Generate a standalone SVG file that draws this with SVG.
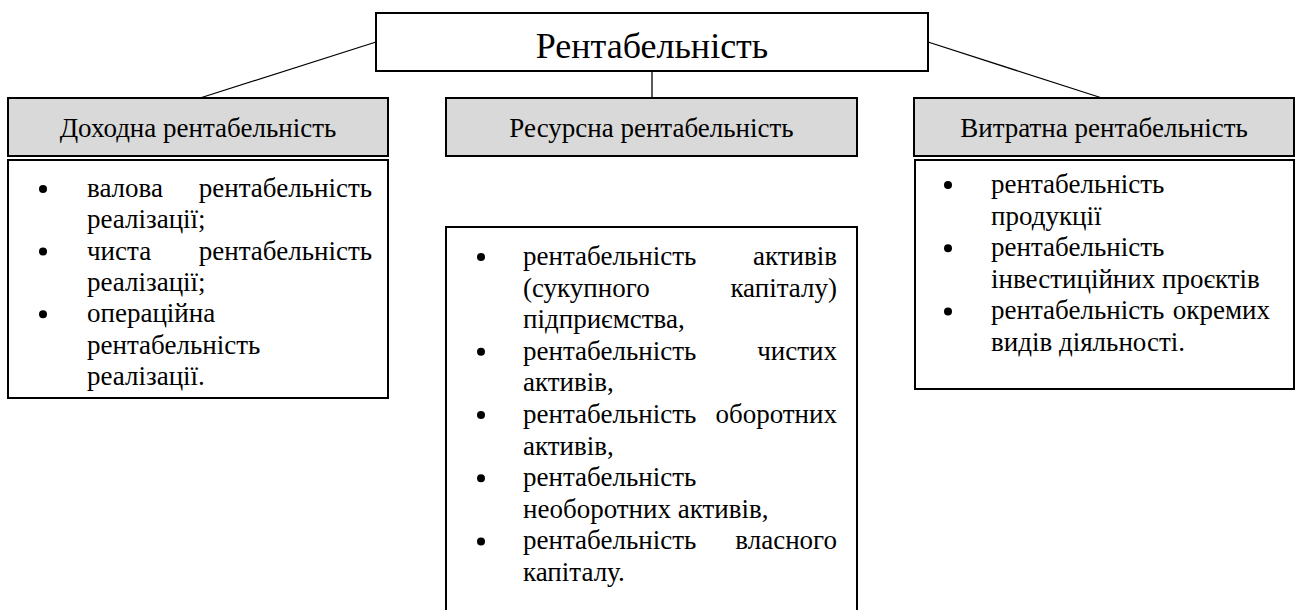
<svg xmlns="http://www.w3.org/2000/svg" width="1297" height="610" viewBox="0 0 1297 610">
<style>
.box{fill:#fff;stroke:#000;stroke-width:2}
.hdr{fill:#d9d9d9;stroke:#000;stroke-width:2}
.conn{stroke:#000;stroke-width:1.3;fill:none}
text{font-family:"Liberation Serif","Times New Roman",serif;fill:#000}
.t{font-size:27px}
.h{font-size:27px;text-anchor:middle}
.e{text-anchor:end}
.title{font-size:36px;text-anchor:middle}
.b{fill:#000}
</style>
<rect width="1297" height="610" fill="#fff"/>
<g id="connectors">
<line class="conn" x1="376" y1="42" x2="200" y2="98"/>
<line class="conn" x1="652" y1="71" x2="652" y2="98"/>
<line class="conn" x1="928" y1="42" x2="1102" y2="98"/>
</g>
<g id="root">
<rect class="box" x="376" y="13" width="552" height="58"/>
<text class="title" x="652" y="58">Рентабельність</text>
</g>
<g id="income">
<rect class="hdr" x="8" y="98" width="380" height="58"/>
<text class="h" x="198" y="137">Доходна рентабельність</text>
</g>
<g id="resource">
<rect class="hdr" x="446" y="98" width="411" height="58"/>
<text class="h" x="651.5" y="137">Ресурсна рентабельність</text>
</g>
<g id="cost">
<rect class="hdr" x="914" y="98" width="380" height="58"/>
<text class="h" x="1104" y="137">Витратна рентабельність</text>
</g>
<g id="income-list">
<rect class="box" x="8" y="160" width="380" height="238"/>
<circle class="b" cx="43" cy="189" r="4"/>
<circle class="b" cx="43" cy="251.6" r="4"/>
<circle class="b" cx="43" cy="314.2" r="4"/>
<text class="t" x="87" y="197">валова</text><text class="t e" x="372" y="197">рентабельність</text>
<text class="t" x="87" y="228.3">реалізації;</text>
<text class="t" x="87" y="259.6">чиста</text><text class="t e" x="372" y="259.6">рентабельність</text>
<text class="t" x="87" y="290.9">реалізації;</text>
<text class="t" x="87" y="322.2">операційна</text>
<text class="t" x="87" y="353.5">рентабельність</text>
<text class="t" x="87" y="384.8">реалізації.</text>
</g>
<g id="resource-list">
<rect class="box" x="446" y="227" width="411" height="400"/>
<circle class="b" cx="481" cy="257" r="4"/>
<circle class="b" cx="481" cy="351.8" r="4"/>
<circle class="b" cx="481" cy="415" r="4"/>
<circle class="b" cx="481" cy="478.2" r="4"/>
<circle class="b" cx="481" cy="541.4" r="4"/>
<text class="t" x="523" y="265">рентабельність</text><text class="t e" x="837" y="265">активів</text>
<text class="t" x="523" y="296.6">(сукупного</text><text class="t e" x="837" y="296.6">капіталу)</text>
<text class="t" x="523" y="328.2">підприємства,</text>
<text class="t" x="523" y="359.8">рентабельність</text><text class="t e" x="837" y="359.8">чистих</text>
<text class="t" x="523" y="391.4">активів,</text>
<text class="t" x="523" y="423">рентабельність</text><text class="t e" x="837" y="423">оборотних</text>
<text class="t" x="523" y="454.6">активів,</text>
<text class="t" x="523" y="486.2">рентабельність</text>
<text class="t" x="523" y="517.8">необоротних активів,</text>
<text class="t" x="523" y="549.4">рентабельність</text><text class="t e" x="837" y="549.4">власного</text>
<text class="t" x="523" y="581">капіталу.</text>
</g>
<g id="cost-list">
<rect class="box" x="915" y="160" width="379" height="229"/>
<circle class="b" cx="948" cy="185" r="4"/>
<circle class="b" cx="948" cy="248.2" r="4"/>
<circle class="b" cx="948" cy="311.4" r="4"/>
<text class="t" x="991" y="193">рентабельність</text>
<text class="t" x="991" y="224.6">продукції</text>
<text class="t" x="991" y="256.2">рентабельність</text>
<text class="t" x="991" y="287.8">інвестиційних проєктів</text>
<text class="t" x="991" y="319.4">рентабельність</text><text class="t e" x="1270" y="319.4">окремих</text>
<text class="t" x="991" y="351">видів діяльності.</text>
</g>
</svg>
